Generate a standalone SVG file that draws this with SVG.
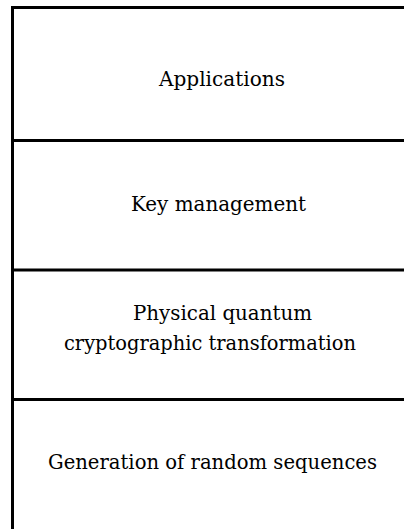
<svg xmlns="http://www.w3.org/2000/svg" width="404" height="529" viewBox="0 0 404 529">
  <style>
    .rule { stroke: #000; stroke-width: 3; fill: none; }
    .label { font-family: "DejaVu Serif", "Liberation Serif", serif; font-size: 21px; fill: #000; text-anchor: middle; }
  </style>
  <rect x="0" y="0" width="404" height="529" fill="#fff"/>
  <!-- layer stack: outer frame and dividers -->
  <g id="frame">
    <line class="rule" x1="12.5" y1="7.5" x2="404" y2="7.5"/>
    <line class="rule" x1="12.5" y1="6" x2="12.5" y2="529"/>
  </g>
  <g id="applications">
    <text class="label" x="222" y="86" textLength="126" lengthAdjust="spacingAndGlyphs">Applications</text>
  </g>
  <g id="key-management">
    <text class="label" x="218.5" y="211" textLength="175" lengthAdjust="spacingAndGlyphs">Key management</text>
  </g>
  <g id="physical-transformation">
    <text class="label" x="222.5" y="320" textLength="179" lengthAdjust="spacingAndGlyphs">Physical quantum</text>
    <text class="label" x="210" y="350" textLength="292" lengthAdjust="spacingAndGlyphs">cryptographic transformation</text>
  </g>
  <g id="random-sequences">
    <text class="label" x="212.5" y="469" textLength="329" lengthAdjust="spacingAndGlyphs">Generation of random sequences</text>
  </g>
  <g id="dividers">
    <line class="rule" x1="12.5" y1="140.5" x2="404" y2="140.5"/>
    <line class="rule" x1="12.5" y1="270" x2="404" y2="270"/>
    <line class="rule" x1="12.5" y1="399.5" x2="404" y2="399.5"/>
  </g>
</svg>
